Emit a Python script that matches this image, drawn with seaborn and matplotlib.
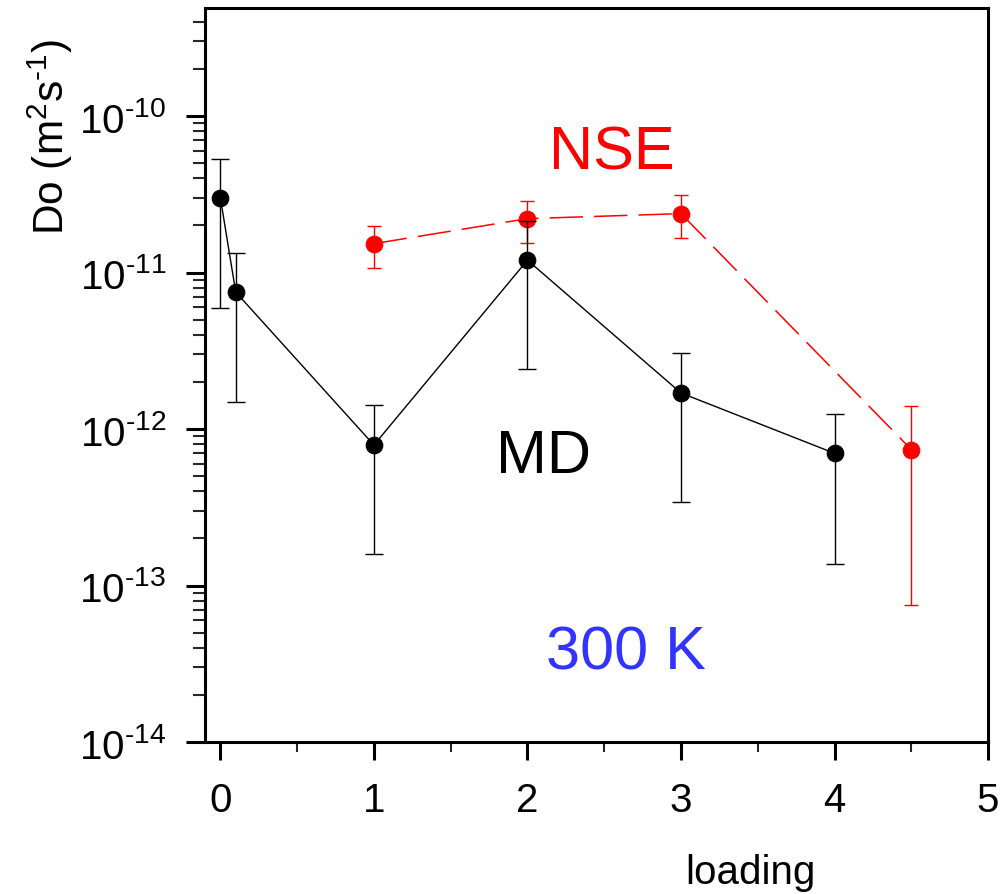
import numpy as np
import pandas as pd
import seaborn as sns
import matplotlib.pyplot as plt
from matplotlib.ticker import LogLocator, FuncFormatter, NullFormatter, MultipleLocator

# дані
md_loading = [0.0, 0.1, 1.0, 2.0, 3.0, 4.0]
md_do = [3.0e-11, 7.5e-12, 7.9e-13, 1.2e-11, 1.7e-12, 7.0e-13]
md_upper = [5.35e-11, 1.34e-11, 1.43e-12, 2.15e-11, 3.05e-12, 1.25e-12]
md_lower = [5.97e-12, 1.49e-12, 1.58e-13, 2.41e-12, 3.40e-13, 1.38e-13]

nse_loading = [1.0, 2.0, 3.0, 4.5]
nse_do = [1.53e-11, 2.21e-11, 2.38e-11, 7.4e-13]
nse_upper = [1.97e-11, 2.86e-11, 3.11e-11, 1.41e-12]
nse_lower = [1.07e-11, 1.55e-11, 1.66e-11, 7.5e-14]

x_ticks = [0, 1, 2, 3, 4, 5]
y_ticks = [1e-14, 1e-13, 1e-12, 1e-11, 1e-10]

md = pd.DataFrame({'loading': md_loading, 'Do': md_do})
nse = pd.DataFrame({'loading': nse_loading, 'Do': nse_do})

sns.set_style("ticks")
plt.rcParams['font.family'] = ['Liberation Sans', 'DejaVu Sans']
plt.rcParams['mathtext.fontset'] = 'custom'
plt.rcParams['mathtext.rm'] = 'Liberation Sans'
plt.rcParams['mathtext.it'] = 'Liberation Sans:italic'
plt.rcParams['mathtext.bf'] = 'Liberation Sans:bold'
plt.rcParams['mathtext.default'] = 'regular'
plt.rcParams['lines.scale_dashes'] = False
plt.rcParams['axes.labelcolor'] = 'black'
plt.rcParams['text.color'] = 'black'


def pow10(v, pos):
    e = int(round(np.log10(v)))
    return r'$10^{\text{' + str(e) + '}}$'


fig = plt.figure(figsize=(10.08, 8.95), dpi=100)
ax = fig.add_axes([0.2034, 0.1698, 0.7768, 0.8201])

# NSE (червоний, пунктир)
ax.errorbar(nse['loading'], nse['Do'],
            yerr=[np.array(nse_do) - np.array(nse_lower), np.array(nse_upper) - np.array(nse_do)],
            fmt='none', ecolor='#ff0000', elinewidth=1.0, capsize=5, capthick=1.0, zorder=2)
sns.lineplot(data=nse, x='loading', y='Do', ax=ax, color='#ff0000', marker='o',
             markersize=12, markeredgecolor='#ff0000', linewidth=1.1, sort=False,
             linestyle=(0, (24, 8)), zorder=3)

# MD (чорний)
ax.errorbar(md['loading'], md['Do'],
            yerr=[np.array(md_do) - np.array(md_lower), np.array(md_upper) - np.array(md_do)],
            fmt='none', ecolor='black', elinewidth=1.0, capsize=6.8, capthick=1.0, zorder=4)
sns.lineplot(data=md, x='loading', y='Do', ax=ax, color='black', marker='o',
             markersize=12, markeredgecolor='black', linewidth=1.0, sort=False, zorder=5)

ax.set_yscale('log')
ax.set_ylim(1e-14, 4.9e-10)
ax.set_xlim(-0.1, 5)
ax.set_xticks(x_ticks)
ax.set_yticks(y_ticks)
ax.xaxis.set_minor_locator(MultipleLocator(0.5))
ax.yaxis.set_major_formatter(FuncFormatter(pow10))
ax.yaxis.set_minor_locator(LogLocator(base=10, subs=np.arange(2, 10)))
ax.yaxis.set_minor_formatter(NullFormatter())

for s in ax.spines.values():
    s.set_linewidth(2.2)
    s.set_color('black')

ax.tick_params(axis='both', which='major', labelsize=29, direction='out', width=2.2,
               colors='black', labelcolor='black')
ax.tick_params(axis='y', which='major', length=14, pad=14)
ax.tick_params(axis='y', which='minor', length=8.5, width=1.5, direction='out')
ax.tick_params(axis='x', which='major', length=13, pad=15)
ax.tick_params(axis='x', which='minor', length=7, width=1.5, direction='out')

ax.set_xlabel('loading', fontsize=29, color='black')
ax.set_ylabel('Do (m$^{2}$s$^{\\text{-1}}$)', fontsize=30.5, color='black')
ax.xaxis.set_label_coords(0.696, -0.151)
ax.yaxis.set_label_coords(-0.166, 0.826)

ax.text(0.52, 0.781, 'NSE', color='#ff0000', fontsize=44, ha='center', va='baseline', transform=ax.transAxes)
ax.text(0.432, 0.368, 'MD', color='black', fontsize=44, ha='center', va='baseline', transform=ax.transAxes)
ax.text(0.538, 0.100, '300 K', color='#3333ff', fontsize=44, ha='center', va='baseline', transform=ax.transAxes)

fig.savefig('out.png', dpi=100)
